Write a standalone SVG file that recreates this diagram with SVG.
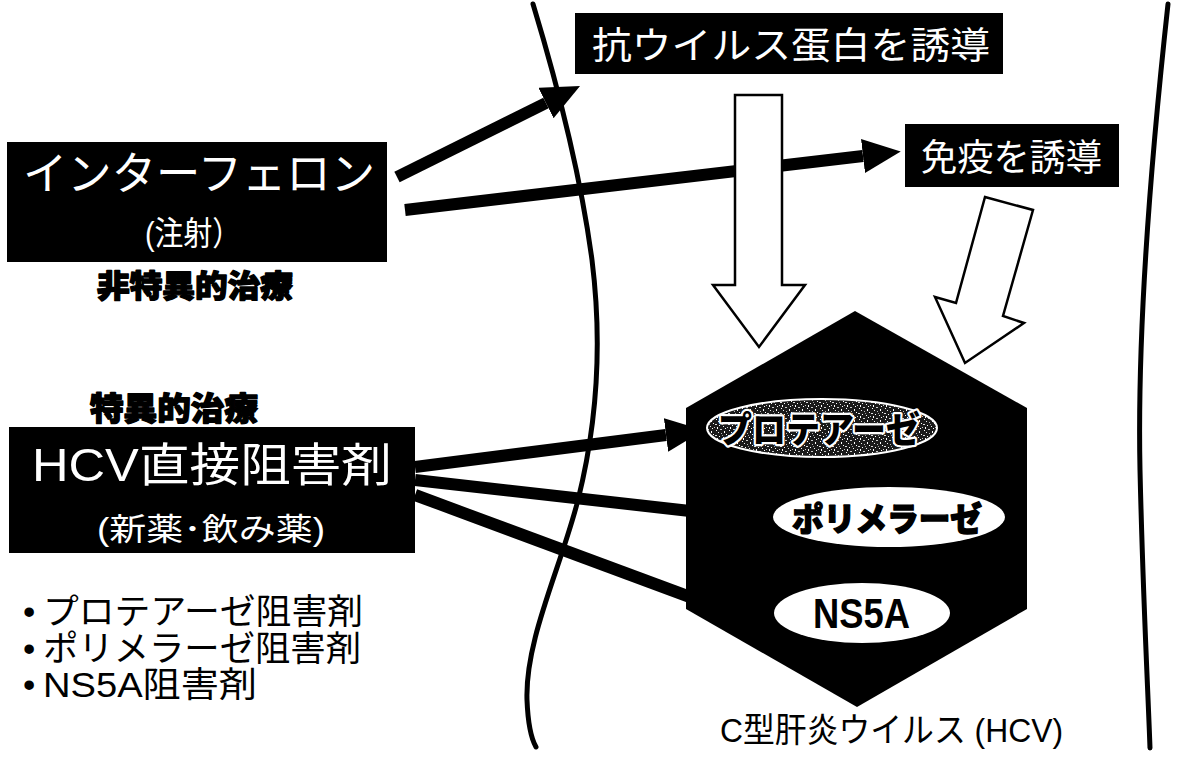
<svg xmlns="http://www.w3.org/2000/svg" width="1181" height="758" viewBox="0 0 1181 758">
  <style>
    .jp { font-family: "Noto Sans CJK JP", sans-serif; }
    .mix { font-family: "Liberation Sans", "Noto Sans CJK JP", sans-serif; }
    .heavy { font-family: "Noto Sans CJK JP", sans-serif; font-weight: 900; }
    .thick { stroke: #000; stroke-width: 1.4; stroke-linejoin: round; }
    .bold { font-family: "Liberation Sans", "Noto Sans CJK JP", sans-serif; font-weight: 700; }
    .wt { fill: #fff; }
    .bk { fill: #000; }
    .box { fill: #000; }
    .wall { fill: none; stroke: #000; stroke-width: 5; stroke-linecap: round; }
    .conn { fill: none; stroke: #000; stroke-width: 12; }
    .hollow { fill: #fff; stroke: #000; stroke-width: 2.5; stroke-linejoin: miter; }
  </style>
  <defs>
    <marker id="head" markerUnits="userSpaceOnUse" markerWidth="40" markerHeight="36" refX="0" refY="17" orient="auto">
      <path d="M0,0 L38,17 L0,34 Z" fill="#000"/>
    </marker>
    <!-- speckled dark fill for the protease ellipse -->
    <pattern id="grain" patternUnits="userSpaceOnUse" width="13" height="11">
      <rect width="13" height="11" fill="#1a1a1a"/>
      <rect x="1" y="1" width="1" height="1" fill="#fff"/>
      <rect x="5" y="0" width="2" height="1" fill="#ccc"/>
      <rect x="9" y="2" width="1" height="2" fill="#fff"/>
      <rect x="3" y="3" width="1" height="1" fill="#eee"/>
      <rect x="11" y="5" width="1" height="1" fill="#fff"/>
      <rect x="6" y="4" width="1" height="1" fill="#bbb"/>
      <rect x="0" y="6" width="2" height="1" fill="#ddd"/>
      <rect x="4" y="7" width="1" height="1" fill="#fff"/>
      <rect x="8" y="8" width="1" height="1" fill="#eee"/>
      <rect x="12" y="9" width="1" height="1" fill="#ccc"/>
      <rect x="2" y="9" width="1" height="2" fill="#fff"/>
      <rect x="7" y="6" width="1" height="1" fill="#999"/>
      <rect x="10" y="10" width="1" height="1" fill="#fff"/>
    </pattern>
  </defs>

  <rect width="1181" height="758" fill="#fff"/>

  <!-- cell membrane walls -->
  <path class="wall" d="M533,4 C556,80 580,170 592,260 C602,340 598,420 578,500 C560,570 525,640 527,700 C528,725 532,740 536,747"/>
  <path class="wall" d="M1168,4 C1152,150 1137,330 1140,470 C1143,600 1148,690 1150,748"/>

  <!-- HCV virus hexagon -->
  <g id="hcv-virus">
    <polygon points="855,311 1027,408 1027,609 857,707 686,609 686,408" fill="#000"/>
    <text class="mix bk" x="720" y="742" font-size="34" textLength="343" lengthAdjust="spacingAndGlyphs">C型肝炎ウイルス (HCV)</text>
  </g>

  <!-- connectors -->
  <g id="connectors">
    <line class="conn" x1="397" y1="177" x2="546" y2="103" marker-end="url(#head)"/>
    <line class="conn" x1="405" y1="210" x2="863" y2="156" marker-end="url(#head)"/>
    <line class="conn" x1="415" y1="467" x2="666" y2="435" marker-end="url(#head)"/>
    <line class="conn" x1="415" y1="480" x2="690" y2="511"/>
    <line class="conn" x1="415" y1="495" x2="690" y2="597"/>
  </g>

  <!-- hollow block arrows -->
  <g id="arrow-antiviral">
    <polygon class="hollow" points="735,95 782,95 782,285 805,285 759,347 713,285 735,285"/>
  </g>
  <g id="arrow-immunity">
    <polygon class="hollow" points="985,197 1033,210 1003,316 1024,323 965,363 935,297 956,303"/>
  </g>

  <!-- interferon -->
  <g id="interferon">
    <rect class="box" x="7" y="142" width="380" height="120"/>
    <text class="jp wt" x="23" y="190" font-size="45" textLength="352" lengthAdjust="spacingAndGlyphs">インターフェロン</text>
    <text class="mix wt" x="145" y="245" font-size="33" textLength="96" lengthAdjust="spacingAndGlyphs">(注射）</text>
  </g>
  <g id="nonspecific">
    <text class="heavy thick bk" x="97" y="297" font-size="31" textLength="196" lengthAdjust="spacingAndGlyphs">非特異的治療</text>
  </g>

  <!-- direct-acting antivirals -->
  <g id="specific">
    <text class="heavy thick bk" x="90" y="420" font-size="32" textLength="168" lengthAdjust="spacingAndGlyphs">特異的治療</text>
  </g>
  <g id="daa">
    <rect class="box" x="9" y="427" width="406" height="126"/>
    <text class="mix wt" x="32" y="481" font-size="46" textLength="360" lengthAdjust="spacingAndGlyphs">HCV直接阻害剤</text>
    <text class="mix wt" x="97" y="540" font-size="31" textLength="228" lengthAdjust="spacingAndGlyphs">(新薬･飲み薬)</text>
  </g>
  <g id="daa-list" class="mix bk" font-size="35">
    <text x="23" y="624">•<tspan x="43" textLength="320" lengthAdjust="spacingAndGlyphs">プロテアーゼ阻害剤</tspan></text>
    <text x="23" y="661">•<tspan x="43" textLength="318" lengthAdjust="spacingAndGlyphs">ポリメラーゼ阻害剤</tspan></text>
    <text x="23" y="697">•<tspan x="43" textLength="214" lengthAdjust="spacingAndGlyphs">NS5A阻害剤</tspan></text>
  </g>

  <!-- induced effects -->
  <g id="antiviral-protein">
    <rect class="box" x="575" y="13" width="428" height="61"/>
    <text class="jp wt" x="592" y="59" font-size="37" textLength="398" lengthAdjust="spacingAndGlyphs">抗ウイルス蛋白を誘導</text>
  </g>
  <g id="immunity">
    <rect class="box" x="905" y="124" width="214" height="63"/>
    <text class="jp wt" x="921" y="171" font-size="37" textLength="181" lengthAdjust="spacingAndGlyphs">免疫を誘導</text>
  </g>

  <!-- viral targets -->
  <g id="protease">
    <ellipse cx="822" cy="428" rx="115" ry="29" fill="url(#grain)" stroke="#fff" stroke-width="2"/>
    <text class="heavy bk" x="718" y="443" font-size="36" textLength="202" lengthAdjust="spacingAndGlyphs" stroke="#fff" stroke-width="4.5" paint-order="stroke" stroke-linejoin="round">プロテアーゼ</text>
  </g>
  <g id="polymerase">
    <ellipse cx="889" cy="517" rx="116" ry="30" fill="#fff"/>
    <text class="heavy thick bk" x="792" y="531" font-size="33" textLength="190" lengthAdjust="spacingAndGlyphs">ポリメラーゼ</text>
  </g>
  <g id="ns5a">
    <ellipse cx="862" cy="613" rx="88" ry="30" fill="#fff"/>
    <text class="bold bk" x="813" y="628" font-size="42" textLength="97" lengthAdjust="spacingAndGlyphs">NS5A</text>
  </g>
</svg>
